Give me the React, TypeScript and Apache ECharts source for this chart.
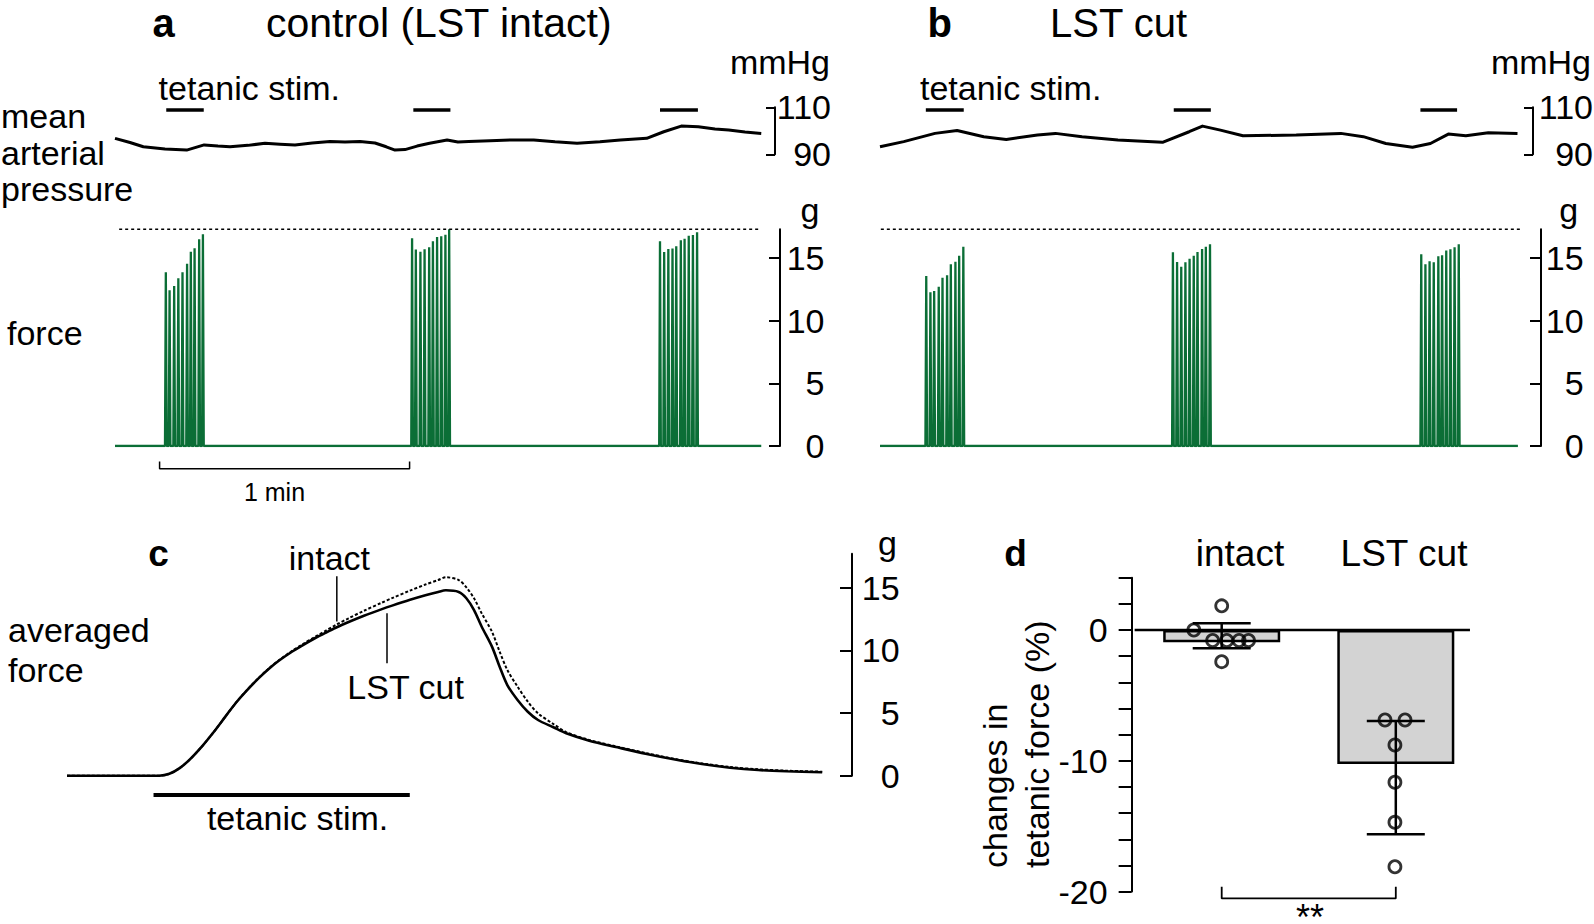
import { useEffect, useRef } from 'react';
import * as echarts from 'echarts';

const FONT = "'Liberation Sans', Arial, Helvetica, sans-serif";
const GREEN = '#0b6e36';
const BLACK = '#000';

// ---------- panel a / b : mean arterial pressure (mmHg) vs time (s) ----------
const mapATime = [0, 3.6, 6.8, 12.0, 17.2, 21.4, 24.7, 27.6, 31.9, 36.0, 39.6, 43.2, 47.3, 51.6, 55.2, 58.8, 62.4, 65.1, 67.2, 69.6, 72.5, 75.5, 79.7, 82.3, 84.9, 90.0, 95.3, 100.5, 105.6, 110.9, 116.4, 121.3, 127.6, 131.7, 135.9, 140.0, 144.0, 147.3, 151.2, 155.1];
const mapAValue = [96.8, 95.0, 93.2, 92.3, 91.8, 94.0, 93.5, 93.2, 93.8, 94.7, 94.3, 94.0, 94.8, 95.4, 95.2, 95.4, 94.8, 93.2, 91.8, 92.0, 93.5, 94.7, 96.1, 95.2, 95.4, 95.8, 96.1, 96.1, 95.3, 94.7, 95.3, 96.1, 96.8, 99.6, 102.0, 101.7, 100.8, 100.3, 99.5, 98.9];
const mapBTime = [0, 5.7, 13.2, 18.5, 24.9, 30.3, 37.8, 42.1, 48.5, 57.1, 67.8, 74.2, 77.4, 81.7, 87.1, 99.9, 110.6, 116.0, 121.4, 127.8, 132.1, 136.4, 140.6, 146.0, 153.0];
const mapBValue = [93.2, 95.4, 98.9, 100.1, 97.5, 96.3, 98.2, 98.9, 97.5, 96.1, 95.1, 99.6, 102.0, 100.3, 97.9, 98.2, 98.9, 97.5, 94.6, 93.0, 94.6, 98.6, 97.9, 99.2, 98.9];

// tetanic stimulation periods (s)
const stimA = [[12.3, 21.3], [71.6, 80.5], [130.8, 139.9]];
const stimB = [[11.0, 20.1], [70.5, 79.4], [129.7, 138.5]];
const stimLevel = 108.8;

// ---------- force (g): tetanic contraction peaks ----------
const forceA1Time = [12.2, 13.1, 14.2, 15.2, 16.2, 17.3, 18.2, 19.1, 20.2, 21.1];
const forceA1Peak = [13.86, 12.43, 12.77, 13.38, 13.86, 14.55, 15.5, 15.78, 16.5, 16.9];
const forceA2Time = [71.3, 72.2, 73.3, 74.3, 75.4, 76.3, 77.3, 78.3, 79.3, 80.2];
const forceA2Peak = [16.58, 15.67, 15.51, 15.7, 15.86, 16.34, 16.68, 16.73, 16.86, 17.29];
const forceA3Time = [130.8, 131.8, 132.8, 133.8, 134.7, 135.8, 136.7, 137.7, 138.7, 139.7];
const forceA3Peak = [16.34, 15.48, 15.72, 15.75, 15.94, 16.42, 16.54, 16.78, 16.84, 17.06];
const forceB1Time = [11.1, 12.1, 13.0, 14.1, 15.0, 16.1, 17.0, 18.1, 19.0, 20.0];
const forceB1Peak = [13.57, 12.27, 12.37, 12.71, 13.43, 13.62, 14.5, 14.71, 15.19, 15.9];
const forceB2Time = [70.3, 71.3, 72.3, 73.3, 74.3, 75.3, 76.2, 77.3, 78.2, 79.2];
const forceB2Peak = [15.46, 14.68, 14.31, 14.66, 14.95, 15.19, 15.48, 15.72, 15.9, 16.1];
const forceB3Time = [129.9, 130.9, 131.9, 132.9, 134.0, 134.9, 135.9, 136.9, 137.9, 138.9];
const forceB3Peak = [15.3, 14.5, 14.74, 14.66, 15.14, 15.22, 15.59, 15.7, 15.85, 16.1];
const forceRefLevel = 17.3; // dotted reference line
const refLineA = [1.0, 154.8];
const refLineB = [0.2, 154.1];
const traceEndA = 155.1;
const traceEndB = 153.1;
const oneMinBar = [10.7, 70.7];
const oneMinLevel = -1.81;
const oneMinTickTop = -1.24;

const mapTicks = [90, 110];
const forceTicks = [0, 5, 10, 15];

// ---------- panel c: averaged force (g) ----------
const cTime = [0, 3.6, 4.0, 4.4, 4.8, 5.3, 5.7, 6.2, 6.6, 7.0, 7.5, 7.9, 8.3, 8.8, 9.2, 9.7, 10.1, 10.5, 11.0, 11.6, 12.3, 12.7, 13.4, 14.0, 14.5, 14.8, 15.3, 15.6, 15.9, 16.2, 16.6, 16.9, 17.2, 17.6, 18.0, 18.4, 19.0, 19.5, 20.4, 21.5, 22.6, 23.7, 24.8, 25.9, 27.0, 28.1, 29.5];
const cCut = [0, 0, 0.15, 0.6, 1.3, 2.4, 3.4, 4.75, 5.82, 6.75, 7.8, 8.55, 9.2, 9.9, 10.4, 10.98, 11.4, 11.8, 12.25, 12.75, 13.28, 13.56, 14.02, 14.38, 14.65, 14.78, 14.65, 14.15, 13.21, 11.88, 10.29, 8.69, 7.23, 6.04, 5.1, 4.44, 3.86, 3.38, 2.79, 2.26, 1.75, 1.31, 0.93, 0.64, 0.45, 0.35, 0.27];
const cIntact = [0, 0, 0.15, 0.6, 1.3, 2.4, 3.4, 4.75, 5.82, 6.76, 7.82, 8.58, 9.24, 9.96, 10.48, 11.08, 11.55, 12.02, 12.55, 13.15, 13.8, 14.16, 14.76, 15.24, 15.6, 15.82, 15.6, 15.02, 14.14, 12.94, 11.48, 9.89, 8.43, 7.1, 5.9, 4.97, 4.12, 3.48, 2.85, 2.31, 1.81, 1.35, 0.98, 0.69, 0.51, 0.4, 0.32];
const cStim = [3.38, 13.39];
const cStimLevel = -1.54;
const cIntactPointer = [[10.54, 12.3], [10.54, 15.9]];
const cCutPointer = [[12.5, 12.95], [12.5, 8.96]];

// ---------- panel d: changes in tetanic force (%) ----------
const dCategories = ['intact', 'LST cut'];
const dMeans = [-0.94, -10.25];
const dErrLow = [-1.4, -15.62];
const dErrHigh = [0.51, -6.96];
const intactDotsX = [0, -0.16, -0.052, 0.029, 0.1, 0.154, 0];
const intactDotsY = [1.85, 0, -0.8, -0.8, -0.8, -0.8, -2.42];
const cutDotsX = [0.938, 1.053, 0.995, 0.995, 0.995, 0.995];
const cutDotsY = [-6.88, -6.88, -8.79, -11.64, -14.7, -18.1];
const dTicks = [-20, -18, -16, -14, -12, -10, -8, -6, -4, -2, 0, 2, 4];
const dLabels = [-20, -10, 0];
const sigBracket = [[0, -19.63], [0, -20.52], [1, -20.52], [1, -19.63]];
const zeroLineX = [-0.5, 1.426];

// ---------- layout ----------
const PXS = 250 / 60; // px per second in panels a/b (1 min bar = 250 px)
const W_AB = 647;

function spikes(times: number[][], peaks: number[][], end: number) {
  const d: number[][] = [[0, 0]];
  times.forEach((tt, b) => {
    tt.forEach((t, i) => {
      d.push([t - 0.2, 0], [t, peaks[b][i]], [t + 0.2, 0]);
    });
  });
  d.push([end, 0]);
  return d;
}

function rightAxis(gridIndex: number, min: number, max: number, ticks: number[], offset: number, margin: number, tickLen: number) {
  return {
    gridIndex, type: 'value', position: 'right', min, max, offset,
    axisLine: { show: true, onZero: false, lineStyle: { color: BLACK, width: 2 } },
    axisTick: { show: true, inside: true, length: tickLen, customValues: ticks, lineStyle: { color: BLACK, width: 2 } },
    axisLabel: { show: true, customValues: ticks, align: 'right', margin, color: BLACK, fontSize: 34, fontFamily: FONT },
    splitLine: { show: false },
  };
}

function txt(text: string, x: number, y: number, size: number, align = 'left', bold = false, rotation = 0) {
  return {
    type: 'text', x, y, rotation, silent: true,
    style: { text, fill: BLACK, fontSize: size, fontFamily: FONT, fontWeight: bold ? 'bold' : 'normal', align, verticalAlign: 'middle' },
  };
}

function lineSeries(xi: number, data: any[], style: any, extra: any = {}) {
  return { type: 'line', xAxisIndex: xi, yAxisIndex: xi, data, symbol: 'none', silent: true, lineStyle: style, ...extra };
}

function buildOption() {
  const series: any[] = [];
  // MAP traces
  series.push(lineSeries(0, mapATime.map((t, i) => [t, mapAValue[i]]), { color: BLACK, width: 3, join: 'round' }));
  series.push(lineSeries(2, mapBTime.map((t, i) => [t, mapBValue[i]]), { color: BLACK, width: 3, join: 'round' }));
  stimA.forEach((s) => series.push(lineSeries(0, [[s[0], stimLevel], [s[1], stimLevel]], { color: BLACK, width: 3.5 }, { clip: false })));
  stimB.forEach((s) => series.push(lineSeries(2, [[s[0], stimLevel], [s[1], stimLevel]], { color: BLACK, width: 3.5 }, { clip: false })));
  // force traces
  series.push(lineSeries(1, spikes([forceA1Time, forceA2Time, forceA3Time], [forceA1Peak, forceA2Peak, forceA3Peak], traceEndA), { color: GREEN, width: 2.3 }));
  series.push(lineSeries(3, spikes([forceB1Time, forceB2Time, forceB3Time], [forceB1Peak, forceB2Peak, forceB3Peak], traceEndB), { color: GREEN, width: 2.3 }));
  series.push(lineSeries(1, [[refLineA[0], forceRefLevel], [refLineA[1], forceRefLevel]], { color: BLACK, width: 1.5, type: [3, 3] }, { clip: false }));
  series.push(lineSeries(3, [[refLineB[0], forceRefLevel], [refLineB[1], forceRefLevel]], { color: BLACK, width: 1.5, type: [3, 3] }, { clip: false }));
  series.push(lineSeries(1, [[oneMinBar[0], oneMinTickTop], [oneMinBar[0], oneMinLevel], [oneMinBar[1], oneMinLevel], [oneMinBar[1], oneMinTickTop]], { color: BLACK, width: 1.5 }, { clip: false }));
  // panel c
  series.push(lineSeries(4, cTime.map((t, i) => [t, cIntact[i]]), { color: BLACK, width: 2, type: [3, 2] }, { smooth: 0.3 }));
  series.push(lineSeries(4, cTime.map((t, i) => [t, cCut[i]]), { color: BLACK, width: 2.6 }, { smooth: 0.3 }));
  series.push(lineSeries(4, [[cStim[0], cStimLevel], [cStim[1], cStimLevel]], { color: BLACK, width: 4 }, { clip: false }));
  series.push(lineSeries(4, cIntactPointer, { color: BLACK, width: 1.5 }, { clip: false }));
  series.push(lineSeries(4, cCutPointer, { color: BLACK, width: 1.5 }, { clip: false }));
  // panel d
  series.push({
    type: 'bar', xAxisIndex: 5, yAxisIndex: 5, silent: true, barWidth: 117, z: 2,
    data: dMeans.map((m, i) => [i, m]),
    itemStyle: { color: '#d3d3d3', borderColor: BLACK, borderWidth: 2.5 },
  });
  series.push(lineSeries(5, [[zeroLineX[0], 0], [zeroLineX[1], 0]], { color: BLACK, width: 2.5 }, { z: 3, clip: false }));
  series.push({
    type: 'custom', xAxisIndex: 5, yAxisIndex: 5, silent: true, z: 4,
    data: dCategories.map((_, i) => [i, dErrLow[i], dErrHigh[i]]),
    renderItem: (_p: any, api: any) => {
      const x = api.value(0);
      const a = api.coord([x, api.value(2)]);
      const b = api.coord([x, api.value(1)]);
      const hw = 29;
      const st = { stroke: BLACK, lineWidth: 2.5, fill: null };
      return {
        type: 'group',
        children: [
          { type: 'line', shape: { x1: a[0], y1: a[1], x2: b[0], y2: b[1] }, style: st },
          { type: 'line', shape: { x1: a[0] - hw, y1: a[1], x2: a[0] + hw, y2: a[1] }, style: st },
          { type: 'line', shape: { x1: b[0] - hw, y1: b[1], x2: b[0] + hw, y2: b[1] }, style: st },
        ],
      };
    },
  });
  series.push({
    type: 'scatter', xAxisIndex: 5, yAxisIndex: 5, silent: true, z: 5, symbol: 'circle', symbolSize: 12,
    data: intactDotsX.map((x, i) => [x, intactDotsY[i]]).concat(cutDotsX.map((x, i) => [x, cutDotsY[i]])),
    itemStyle: { color: 'rgba(0,0,0,0)', borderColor: BLACK, borderWidth: 2.8 },
  });
  series.push(lineSeries(5, sigBracket, { color: BLACK, width: 1.8 }, { clip: false }));

  const hiddenX = (gridIndex: number, min: number, max: number) => ({
    gridIndex, type: 'value', min, max, show: false, axisLine: { onZero: false }, splitLine: { show: false },
  });

  const graphic = [
    txt('a', 163.7, 22.7, 40, 'center', true),
    txt('control (LST intact)', 266, 22.7, 41),
    txt('b', 939.8, 22.7, 40, 'center', true),
    txt('LST cut', 1050, 22.7, 40),
    txt('mmHg', 830, 61.5, 34, 'right'),
    txt('mmHg', 1591, 61.5, 34, 'right'),
    txt('tetanic stim.', 158.6, 87.8, 34),
    txt('tetanic stim.', 920, 87.8, 34),
    txt('mean', 1, 116.3, 34),
    txt('arterial', 1, 152.8, 34),
    txt('pressure', 1, 189.3, 34),
    txt('force', 7, 332.8, 34),
    txt('g', 810, 209.8, 34, 'center'),
    txt('g', 1568.6, 209.8, 34, 'center'),
    txt('1 min', 274.5, 492, 25, 'center'),
    txt('c', 158.6, 553.9, 37, 'center', true),
    txt('intact', 329.4, 558.2, 34, 'center'),
    txt('LST cut', 405.6, 686.5, 34, 'center'),
    txt('averaged', 8, 629.9, 34),
    txt('force', 8, 669.9, 34),
    txt('g', 887.5, 543, 34, 'center'),
    txt('tetanic stim.', 297.6, 818, 34, 'center'),
    txt('d', 1015.6, 553.9, 37, 'center', true),
    txt('intact', 1240, 553.5, 37, 'center'),
    txt('LST cut', 1404, 553.5, 37, 'center'),
    txt('changes in', 995, 868, 34, 'left', false, Math.PI / 2),
    txt('tetanic force (%)', 1036.7, 868, 34, 'left', false, Math.PI / 2),
    txt('**', 1310, 917, 36, 'center'),
  ];

  return {
    animation: false,
    backgroundColor: '#fff',
    grid: [
      { left: 115, top: 107.3, width: W_AB, height: 47, outerBoundsMode: 'none' },
      { left: 115, top: 229.2, width: W_AB, height: 216.8, outerBoundsMode: 'none' },
      { left: 880, top: 107.3, width: W_AB, height: 47, outerBoundsMode: 'none' },
      { left: 880, top: 229.2, width: W_AB, height: 216.8, outerBoundsMode: 'none' },
      { left: 67, top: 553.7, width: 757, height: 222, outerBoundsMode: 'none' },
      { left: 1134.65, top: 577.7, width: 348.2, height: 313.9, outerBoundsMode: 'none' },
    ],
    xAxis: [
      hiddenX(0, 0, W_AB / PXS),
      hiddenX(1, 0, W_AB / PXS),
      hiddenX(2, 0, W_AB / PXS),
      hiddenX(3, 0, W_AB / PXS),
      hiddenX(4, 0, 757 / 25.6),
      hiddenX(5, -0.5, 1.5),
    ],
    yAxis: [
      rightAxis(0, 90, 110, mapTicks, 13, 56, 9),
      rightAxis(1, 0, forceRefLevel, forceTicks, 18, 44.5, 11),
      rightAxis(2, 90, 110, mapTicks, 6, 60, 9),
      rightAxis(3, 0, forceRefLevel, forceTicks, 14, 42.6, 11),
      rightAxis(4, 0, 17.7, forceTicks, 28, 47.7, 12),
      {
        gridIndex: 5, type: 'value', position: 'left', min: -20, max: 4, offset: 3,
        axisLine: { show: true, onZero: false, lineStyle: { color: BLACK, width: 2 } },
        axisTick: { show: true, inside: false, length: 13, customValues: dTicks, lineStyle: { color: BLACK, width: 2 } },
        axisLabel: { show: true, customValues: dLabels, margin: 24, color: BLACK, fontSize: 34, fontFamily: FONT },
        splitLine: { show: false },
      },
    ],
    series,
    graphic,
  };
}

export default function App() {
  const ref = useRef<HTMLDivElement>(null);
  useEffect(() => {
    document.body.style.margin = '0';
    document.body.style.overflow = 'hidden';
    const chart = echarts.init(ref.current as HTMLDivElement, null, { renderer: 'svg', width: 1594, height: 924 });
    chart.setOption(buildOption() as any);
    return () => chart.dispose();
  }, []);
  return <div ref={ref} style={{ position: 'fixed', left: 0, top: 0, width: 1594, height: 924, background: '#fff' }} />;
}
